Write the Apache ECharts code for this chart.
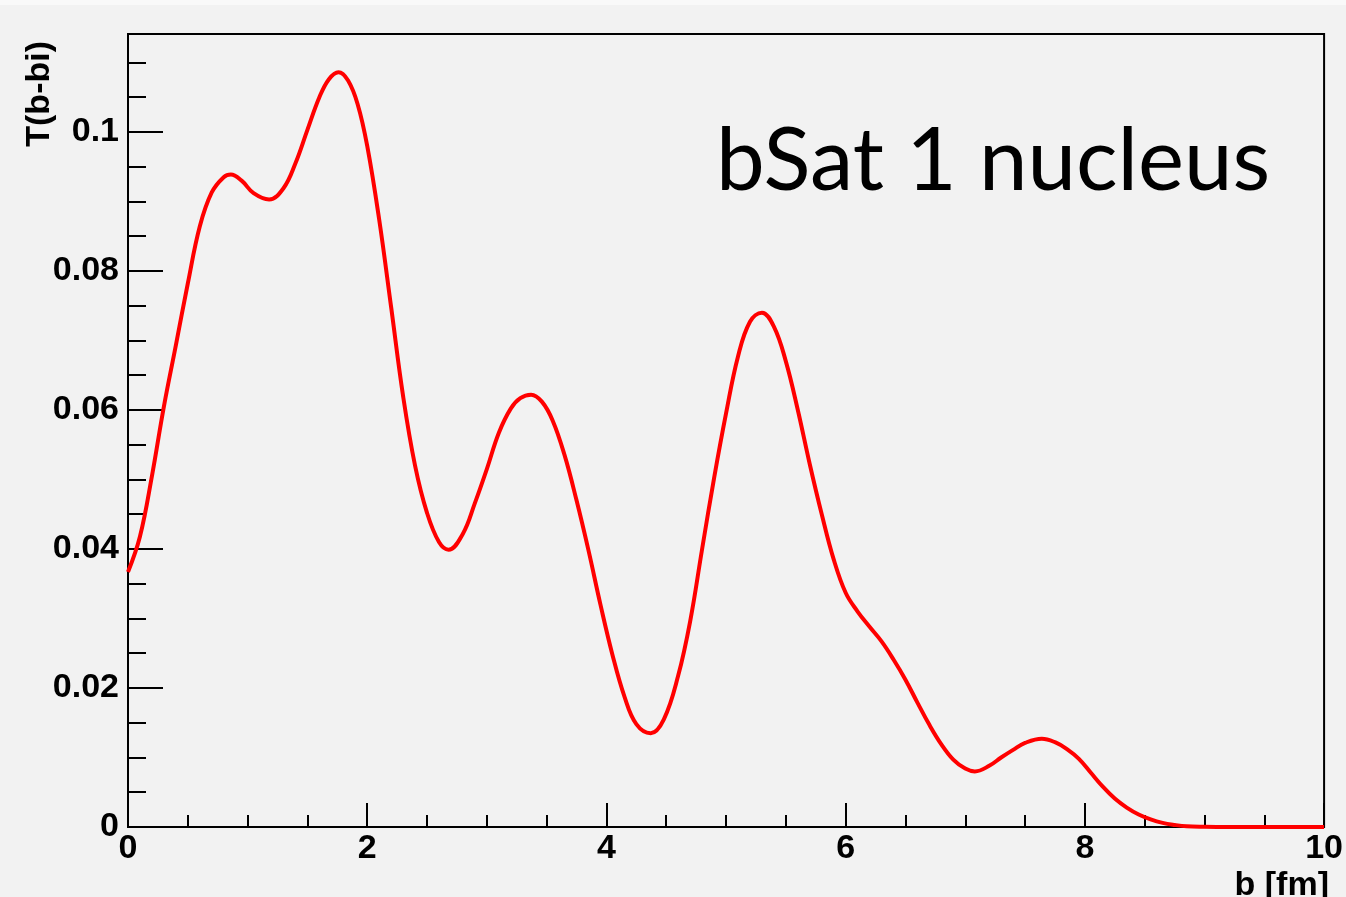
<!DOCTYPE html>
<html>
<head>
<meta charset="utf-8">
<script src="https://cdn.jsdelivr.net/npm/echarts@6/dist/echarts.min.js"></script>
<style>
html,body{margin:0;padding:0;background:#f9f9f9;}
#c{position:absolute;left:0;top:5px;width:1346px;height:892px;background:#f2f2f2;}
</style>
</head>
<body>
<div id="c"></div>
<script>
// Data
const bValues = [0.0,0.1,0.2,0.3,0.4,0.5,0.6,0.7,0.8,0.86,0.95,1.05,1.18,1.3,1.4,1.5,1.6,1.68,1.76,1.84,1.92,
  2.0,2.1,2.2,2.3,2.4,2.5,2.6,2.68,2.8,2.9,3.0,3.1,3.2,3.28,3.37,3.46,3.55,3.65,3.75,3.85,3.95,
  4.05,4.15,4.25,4.37,4.48,4.6,4.7,4.8,4.9,5.0,5.1,5.2,5.3,5.4,5.5,5.6,5.7,5.8,5.9,
  6.0,6.1,6.2,6.3,6.4,6.5,6.6,6.7,6.8,6.9,7.0,7.08,7.2,7.3,7.4,7.5,7.64,7.75,7.85,7.95,
  8.05,8.15,8.25,8.35,8.45,8.55,8.65,8.75,8.85,9.0,9.2,9.4,9.6,9.8,10.0];
const tValues = [0.0367,0.0418,0.0505,0.0605,0.0693,0.0782,0.0864,0.0913,0.0935,0.0939,
  0.0930,0.0912,0.0903,0.0919,0.0955,0.1003,0.1050,0.1076,0.1086,0.1074,0.1040,
  0.0980,0.0874,0.0748,0.0620,0.0520,0.0452,0.0410,0.0399,0.0422,0.0466,
  0.0515,0.0567,0.0602,0.0617,0.0622,0.0612,0.0585,0.0535,0.0470,0.0398,0.0320,
  0.0248,0.0188,0.0148,0.0135,0.0155,0.0218,0.0296,0.0400,0.0502,
  0.0595,0.0677,0.0727,0.0740,0.0720,0.0670,0.0600,0.0522,0.0450,0.0385,
  0.0337,0.0310,0.0288,0.0267,0.0241,0.0212,0.0179,0.0147,0.0119,0.0097,
  0.0084,0.0080,0.0088,0.0100,0.0111,0.0121,0.0127,0.0122,0.0112,0.0098,
  0.0078,0.0058,0.0041,0.0028,0.0018,0.0011,0.0006,0.0003,0.0001,0.00003,0,0,0,0,0];
const xTickLabels = ['0','2','4','6','8','10'];
const yTickLabels = ['0','0.02','0.04','0.06','0.08','0.1'];
const titleText = 'bSat 1 nucleus';
const xName = 'b [fm]';
const yName = 'T(b-bi)';

const chart = echarts.init(document.getElementById('c'), null, {renderer:'canvas'});
const labelFont = {fontFamily:'Liberation Sans', fontWeight:'bold', fontSize:34, color:'#000'};
const yMax = 0.1141;
chart.setOption({
  backgroundColor:'#f2f2f2',
  animation:false,
  grid:{left:128, top:29, right:17, bottom:70, show:true, borderColor:'#000', borderWidth:2, backgroundColor:'transparent'},
  xAxis:{type:'value', min:0, max:10, interval:2,
    axisLine:{show:true, lineStyle:{color:'#000', width:2}},
    axisTick:{show:true, inside:true, length:24, lineStyle:{color:'#000', width:2}},
    minorTick:{show:true, splitNumber:4, length:12, lineStyle:{color:'#000', width:2}},
    splitLine:{show:false},
    axisLabel:Object.assign({margin:5, formatter:function(v){const i=Math.round(v/2);return (Math.abs(v-i*2)<1e-9)?xTickLabels[i]:'';}}, labelFont)
  },
  yAxis:[{type:'value', min:0, max:yMax, interval:0.02, position:'left',
    axisLine:{show:true, lineStyle:{color:'#000', width:2}},
    axisTick:{show:true, inside:true, length:35, lineStyle:{color:'#000', width:2}},
    splitLine:{show:false},
    axisLabel:Object.assign({margin:9, showMaxLabel:false, formatter:function(v){const i=Math.round(v/0.02);return (Math.abs(v-i*0.02)<1e-9)?yTickLabels[i]:'';}}, labelFont)
  },{type:'value', min:0, max:yMax, interval:0.005, position:'left',
    axisLine:{show:false},
    axisTick:{show:true, inside:true, length:18, lineStyle:{color:'#000', width:2}},
    splitLine:{show:false},
    axisLabel:{show:false}
  }],
  series:[{type:'line', xAxisIndex:0, yAxisIndex:0, smooth:0.4, symbol:'none',
    lineStyle:{color:'#ff0000', width:4},
    data:bValues.map((b,i)=>[b,tValues[i]]), z:3}],
  graphic:[
    {type:'text', left:716, top:113, z:10, style:{text:titleText, fontFamily:'Lato', fontSize:87, fill:'#000'}},
    {type:'text', x:40, y:36, rotation:Math.PI/2, z:10, style:{text:yName, fontFamily:'Liberation Sans', fontWeight:'bold', fontSize:34, fill:'#000', align:'right', verticalAlign:'middle'}},
    {type:'text', x:1329, y:864, z:10, style:{text:xName, fontFamily:'Liberation Sans', fontWeight:'bold', fontSize:34, fill:'#000', align:'right', verticalAlign:'top'}}
  ]
});
</script>
</body>
</html>
